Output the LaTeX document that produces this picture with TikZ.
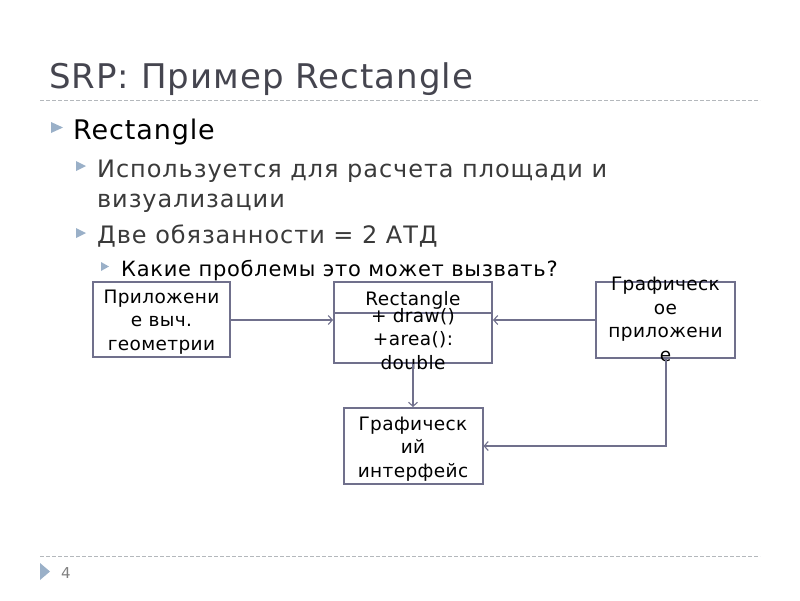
\documentclass[tikz,border=0pt]{standalone}
\usepackage{fontspec}
\setmainfont{DejaVu Sans}
\usetikzlibrary{arrows.meta}
\definecolor{titlec}{HTML}{45454F}
\definecolor{txtc}{HTML}{3A3A3A}
\definecolor{linec}{HTML}{70708C}
\definecolor{bulc}{HTML}{9AB0C8}
\definecolor{dashc}{HTML}{B4B8BC}
\tikzset{
  box/.style={draw=linec, line width=2pt, inner sep=0pt, fill=none},
  boxtext/.style={align=center, inner sep=0pt, anchor=base, font=\fontsize{18.5}{23.5}\selectfont\addfontfeatures{LetterSpace=2}, text=black},
  conn/.style={draw=linec, line width=2pt, -{Straight Barb[length=4pt,width=9pt,line width=1.1pt]}},
  sep/.style={draw=dashc, line width=0.8pt, dash pattern=on 4pt off 2pt},
  bul/.style={fill=bulc, draw=none},
  lvl/.style={anchor=base west, inner sep=0pt},
}
\begin{document}
\begin{tikzpicture}[x=1pt,y=-1pt]
\useasboundingbox (0,0) rectangle (800,600);
% title
\node[lvl, text=titlec, font=\fontsize{34}{38}\selectfont\addfontfeatures{LetterSpace=3}] (title) at (49,88) {SRP: Пример Rectangle};
\draw[sep] (40,100) -- (760,100);
% bullets
\fill[bul] (51,122) -- (63,127.5) -- (51,133) -- cycle;
\node[lvl, font=\fontsize{27}{30}\selectfont\addfontfeatures{LetterSpace=3.3}, text=black] (b1) at (73,139) {Rectangle};
\fill[bul] (76,161) -- (86,166) -- (76,171) -- cycle;
\node[lvl, font=\fontsize{24}{30}\selectfont\addfontfeatures{LetterSpace=3.9}, text=txtc] (b2) at (97,177) {Используется для расчета площади и};
\node[lvl, font=\fontsize{24}{30}\selectfont\addfontfeatures{LetterSpace=3.9}, text=txtc] (b2b) at (97,207) {визуализации};
\fill[bul] (76,228) -- (86,233) -- (76,238) -- cycle;
\node[lvl, font=\fontsize{24}{30}\selectfont\addfontfeatures{LetterSpace=3.9}, text=txtc] (b3) at (97,243) {Две обязанности = 2 АТД};
\fill[bul] (101,262) -- (109,266.5) -- (101,271) -- cycle;
\node[lvl, font=\fontsize{21}{24}\selectfont\addfontfeatures{LetterSpace=3.5}, text=black] (b4) at (121,276) {Какие проблемы это может вызвать?};
% boxes
\node[box, minimum width=137, minimum height=75] (app) at (161.5,319.5) {};
\node[boxtext] (appt) at (161.5,350) {Приложени\\е выч.\\геометрии};
\node[box, minimum width=158, minimum height=81] (rect) at (413,322.5) {};
\draw[linec, line width=2pt] (rect.west |- 0,313) -- (rect.east |- 0,313);
\node[boxtext] (rectt) at (413,305) {Rectangle};
\node[boxtext] (rectm) at (413,369) {+ draw()\\+area():\\double};
\node[box, minimum width=139, minimum height=76] (gapp) at (665.5,320) {};
\node[boxtext] (gappt) at (665.5,361) {Графическ\\ое\\приложени\\е};
\node[box, minimum width=139, minimum height=76] (gui) at (413,446) {};
\node[boxtext] (guit) at (413,477) {Графическ\\ий\\интерфейс};
% connectors
\draw[conn] (app.east |- 0,320) -- (rect.west |- 0,320);
\draw[conn] (gapp.west |- 0,320) -- (rect.east |- 0,320);
\draw[conn] (rect.south) -- (gui.north);
\draw[conn] (gapp.south) |- (gui.east);
% footer
\draw[sep] (40,556) -- (760,556);
\fill[bulc] (40,563) -- (50,571.5) -- (40,580) -- cycle;
\node[lvl, font=\fontsize{15}{16}\selectfont, text=gray] (num) at (61,578) {4};
\end{tikzpicture}
\end{document}
